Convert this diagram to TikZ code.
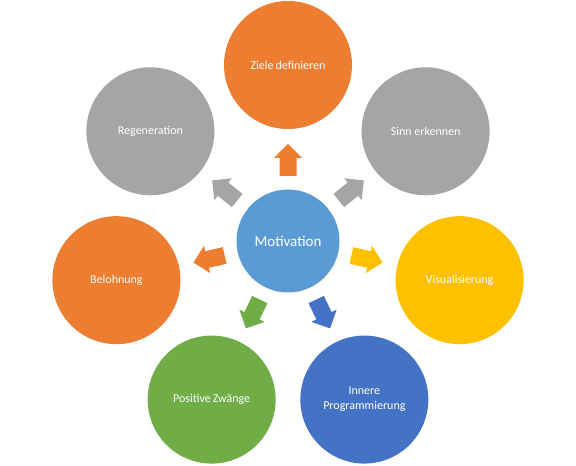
\documentclass[tikz,border=0pt]{standalone}
\usepackage{fontspec}
\setmainfont{Carlito}
\usetikzlibrary{calc}
\definecolor{orng}{HTML}{ED7D31}
\definecolor{grau}{HTML}{A5A5A5}
\definecolor{gelb}{HTML}{FFC000}
\definecolor{blau}{HTML}{4472C4}
\definecolor{gruen}{HTML}{70AD47}
\definecolor{hblau}{HTML}{5B9BD5}
\tikzset{
  kreis/.style={circle, minimum size=128pt, inner sep=0pt, text=white, align=center,
    font=\fontsize{12}{15}\selectfont},
}
\begin{document}
\begin{tikzpicture}[x=1pt, y=1pt, line join=round]
	\useasboundingbox (0,0) rectangle (576,466);
	\node[circle, fill=hblau, minimum size=103pt, inner sep=0pt, text=white,
	  font=\fontsize{15}{18}\selectfont] (mot) at (288,225) {Motivation};
	% outer circles and the arrows pointing at them
	\foreach \nm/\winkel/\farbe/\txt in {
	    ziele/90/orng/Ziele\,definieren,
	    sinn/38.57/grau/Sinn erkennen,
	    visu/-12.86/gelb/Visualisierung,
	    innere/-64.29/blau/Innere\\Programmierung,
	    zwang/-115.71/gruen/Positive\,Zwänge,
	    lohn/-167.14/orng/Belohnung,
	    regen/141.43/grau/Regeneration} {
	  \node[kreis, fill=\farbe] (\nm) at ($(mot)+(\winkel:176)$) {\txt};
	  \begin{scope}[shift={(mot)}, rotate=\winkel]
	    \fill[\farbe] (65,-8.5) -- (83,-8.5) -- (83,-14) -- (97,0) -- (83,14) -- (83,8.5) -- (65,8.5) -- cycle;
	  \end{scope}
	}
\end{tikzpicture}
\end{document}
